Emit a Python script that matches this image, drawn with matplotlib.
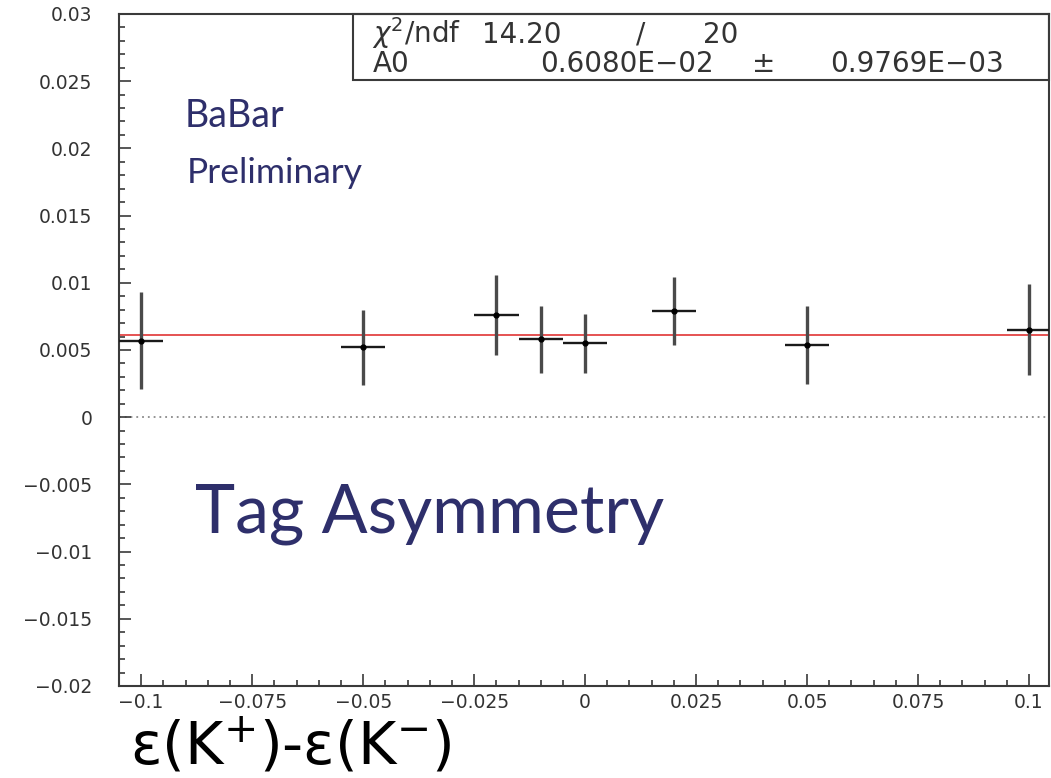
import matplotlib
matplotlib.use('Agg')
import matplotlib.pyplot as plt
import matplotlib.ticker as tic
from matplotlib.patches import Rectangle

# tag asymmetry per bin of eps(K+) - eps(K-)
x_centres = [-0.1, -0.05, -0.02, -0.01, 0.0, 0.02, 0.05, 0.1]
asym = [0.0057, 0.0052, 0.0076, 0.0058, 0.0055, 0.0079, 0.0054, 0.0065]
asym_err = [0.0036, 0.0028, 0.0030, 0.0025, 0.0022, 0.0025, 0.0029, 0.0034]
bin_halfwidth = [0.005] * len(x_centres)

# constant fit result
fit_a0 = 0.00608
fit_a0_err = 0.0009769
chi2 = 14.20
ndf = 20

y_ticks = [-0.02, -0.015, -0.01, -0.005, 0, 0.005, 0.01, 0.015, 0.02, 0.025, 0.03]
x_ticks = [-0.1, -0.075, -0.05, -0.025, 0, 0.025, 0.05, 0.075, 0.1]

plt.rcParams['mathtext.fontset'] = 'dejavusans'
ink = '#2e2f6b'
frame = '#3a3a3a'

fig = plt.figure(figsize=(10.51, 7.78), dpi=100)
ax = fig.add_axes([0.1132, 0.1183, 0.8849, 0.8638])

ax.set_xlim(-0.105, 0.1045)
ax.set_ylim(-0.02, 0.03)

# zero line and fitted constant
ax.axhline(0, color='#8a8a8a', lw=1.3, ls=(0, (1, 2.2)), zorder=1)
ax.axhline(fit_a0, color='#e03535', lw=1.2, zorder=2)

# vertical error bars drawn thicker than the bin-width bars
ax.errorbar(x_centres, asym, yerr=asym_err, fmt='none', ecolor='#4a4a4a',
            elinewidth=2.4, capsize=0, zorder=3)
ax.errorbar(x_centres, asym, xerr=bin_halfwidth, fmt='none', ecolor='#1a1a1a',
            elinewidth=1.7, capsize=0, zorder=3)
ax.plot(x_centres, asym, 'o', color='black', ms=3.5, zorder=4)

for side in ax.spines.values():
    side.set_color(frame)
    side.set_linewidth(1.5)

ax.set_yticks(y_ticks)
ax.set_xticks(x_ticks)
ax.yaxis.set_minor_locator(tic.AutoMinorLocator(5))
ax.xaxis.set_minor_locator(tic.AutoMinorLocator(5))
ax.yaxis.set_major_formatter(tic.FuncFormatter(lambda v, p: ('%g' % v).replace('-', '\u2212')))
ax.xaxis.set_major_formatter(tic.FuncFormatter(lambda v, p: ('%g' % v).replace('-', '\u2212')))
ax.tick_params(which='major', direction='in', length=8.5, width=1.2, color=frame,
               labelsize=13.5, labelcolor='#333333')
ax.tick_params(which='minor', direction='in', length=4.3, width=1.2, color=frame)
ax.tick_params(axis='y', which='major', pad=19)
ax.tick_params(axis='x', which='major', pad=5)

# fit statistics box in the top right corner
box_x0 = 0.252
box_y0 = 0.902
ax.add_patch(Rectangle((box_x0, box_y0), 1 - box_x0, 1 - box_y0, transform=ax.transAxes,
                       fill=False, ec=frame, lw=1.5, clip_on=False, zorder=5))
stat_font = dict(transform=ax.transAxes, fontsize=20, color='#333333', va='baseline')
def ax_x(px):
    return (px - 119) / 930.0
def ax_y(py):
    return (686 - py) / 672.0
ax.text(ax_x(372), ax_y(43), r'$\chi^{2}$/ndf', **stat_font)
ax.text(ax_x(482), ax_y(43), '%.2f' % chi2, **stat_font)
ax.text(ax_x(636), ax_y(43), '/', **stat_font)
ax.text(ax_x(703), ax_y(43), '%d' % ndf, **stat_font)
ax.text(ax_x(373), ax_y(72), 'A0', **stat_font)
ax.text(ax_x(540), ax_y(72), '0.6080E\u221202', **stat_font)
ax.text(ax_x(752), ax_y(72), '\u00b1', **stat_font)
ax.text(ax_x(830), ax_y(72), '0.9769E\u221203', **stat_font)

# annotations
fig.text(0.176, 0.837, 'BaBar', fontsize=27, color=ink, family='Lato')
fig.text(0.178, 0.765, 'Preliminary', fontsize=25.5, color=ink, family='Lato')
fig.text(0.186, 0.315, 'Tag Asymmetry', fontsize=49, color=ink, family='Lato')
fig.text(0.124, 0.018, r'$\mathrm{\varepsilon(K^{+})}$-$\mathrm{\varepsilon(K^{-})}$',
         fontsize=42, color='black')

fig.savefig('out.png', dpi=100)
